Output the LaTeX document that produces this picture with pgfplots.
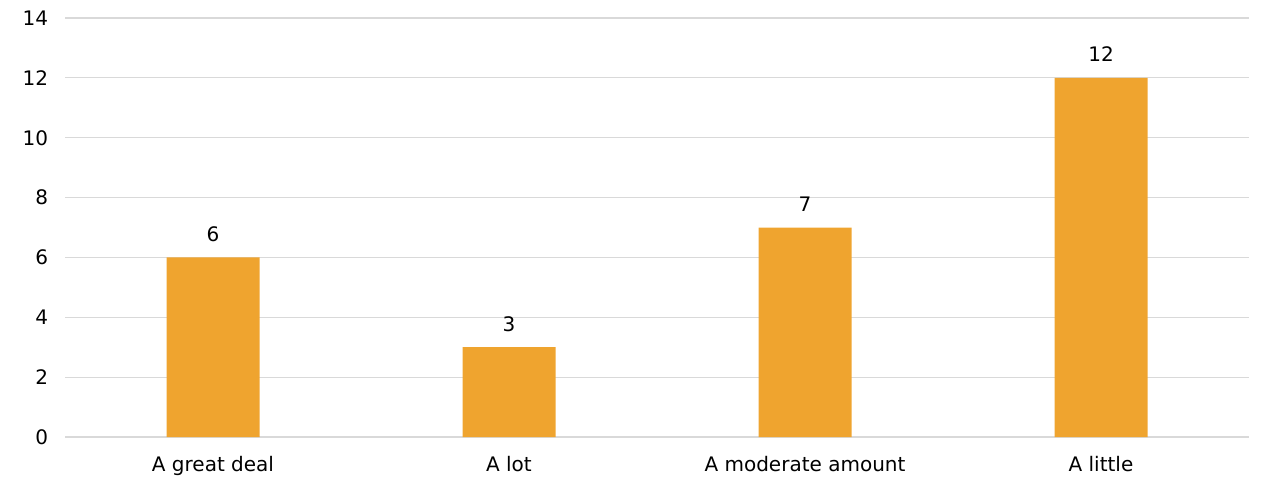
\documentclass[border=0pt]{standalone}
\usepackage{pgfplots}
\pgfplotsset{compat=1.18}
\usepackage{fontspec}
\setmainfont{DejaVu Sans}
\definecolor{barorange}{HTML}{EFA42F}
\definecolor{gridgray}{HTML}{D9D9D9}
\begin{document}
\fontsize{20pt}{24pt}\selectfont
\begin{tikzpicture}
\begin{axis}[
 name=ax,
 scale only axis,width=1184pt,height=419pt,
 ybar,bar width=93pt,
 xmin=-0.5,xmax=3.5,ymin=0,ymax=14,
 xtick=data,xticklabels={A great deal,A lot,A moderate amount,A little},
 ytick={0,2,...,14},
 /pgf/number format/assume math mode=true,
 ticklabel style={font=\fontsize{20pt}{24pt}\selectfont},
 major tick length=0pt,
 yticklabel style={xshift=-10pt},
 xticklabel style={yshift=-12pt},
 axis x line*=bottom,axis y line*=left,
 y axis line style={draw=none},
 x axis line style={gridgray,line width=1.2pt},
 ymajorgrids,grid style={gridgray,line width=1.2pt},
 nodes near coords,
 nodes near coords style={font=\fontsize{20pt}{24pt}\selectfont,black,yshift=9pt},
 clip=false]
\addplot[fill=barorange,draw=none] coordinates {(0,6) (1,3) (2,7) (3,12)};
\end{axis}
\path[use as bounding box] ([xshift=-65pt,yshift=-42pt]ax.south west) rectangle ([xshift=12pt,yshift=18pt]ax.north east);
\end{tikzpicture}
\end{document}
